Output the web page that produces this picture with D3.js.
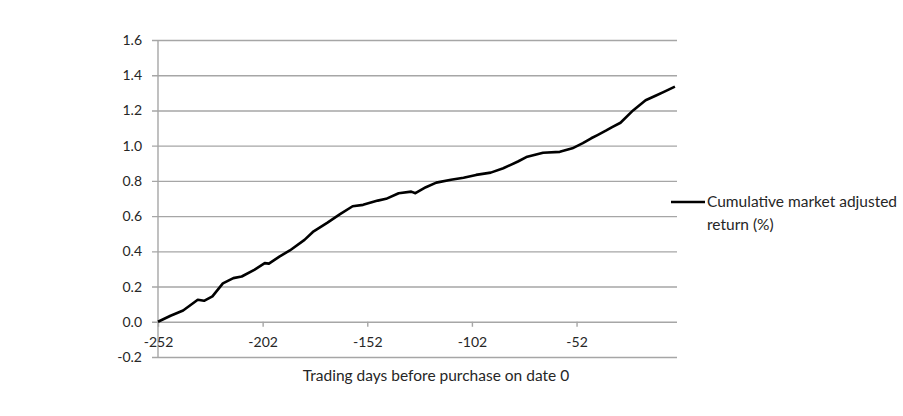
<!DOCTYPE html>
<html>
<head>
<meta charset="utf-8">
<script src="https://cdn.jsdelivr.net/npm/d3@7"></script>
<style>
  body { margin: 0; background: #fff; }
  text { font-family: Lato, "Open Sans", sans-serif; fill: #262626; }
</style>
</head>
<body>
<div id="chart"></div>
<script>
// values
const days = [-252, -246, -240, -233, -230, -226, -221, -216, -212, -206, -201, -199, -194, -189,
    -182, -178, -171, -165, -159, -154, -147, -143, -137, -131, -129, -124, -119, -112, -106,
    -100, -93, -87, -80, -76, -68, -60, -54, -49, -45, -42, -38, -35, -31, -25, -19, -14, -10, -5];
const cumReturn = [0, 0.034, 0.064, 0.125, 0.119, 0.144, 0.218, 0.248, 0.257, 0.295, 0.333, 0.330, 0.37, 0.405,
    0.465, 0.51, 0.563, 0.611, 0.656, 0.664, 0.688, 0.698, 0.73, 0.739, 0.73, 0.764, 0.79, 0.806, 0.818,
    0.834, 0.847, 0.872, 0.91, 0.935, 0.96, 0.965, 0.985, 1.014, 1.042, 1.06, 1.085, 1.105, 1.13, 1.2, 1.258, 1.285, 1.307, 1.335];
const xTicks = [-252, -202, -152, -102, -52];
const yTicks = [-0.2, 0, 0.2, 0.4, 0.6, 0.8, 1.0, 1.2, 1.4, 1.6];
const seriesName = ['Cumulative market adjusted', 'return (%)'];
const xTitle = 'Trading days before purchase on date 0';

const width = 903;
const height = 416;
const margin = {top: 40, left: 158, right: 226, bottom: 59};

const svg = d3.select('#chart')
    .append('svg')
        .attr('width', width)
        .attr('height', height);

const x = d3.scaleLinear()
    .domain([-252, -4])
    .range([margin.left, width - margin.right]);

const y = d3.scaleLinear()
    .domain([-0.2, 1.6])
    .range([height - margin.bottom, margin.top]);

// plain hyphen for the minus sign, like the original
const fmtY = d => d.toFixed(1).replace('\u2212', '-');
const fmtX = d => String(d);

// gridlines with little ticks on the left
const yAxis = svg.append('g')
    .attr('transform', `translate(${margin.left},0)`)
    .call(d3.axisLeft(y)
        .tickValues(yTicks)
        .tickFormat(fmtY)
        .tickSize(-(x.range()[1] - margin.left))
        .tickPadding(16));
yAxis.select('.domain').remove();
yAxis.selectAll('.tick line')
    .attr('x1', -6)
    .attr('stroke', '#a6a6a6')
    .attr('stroke-width', 1.4);
yAxis.selectAll('.tick text')
    .style('font-size', '14px');

// vertical axis line
svg.append('line')
    .attr('x1', margin.left)
    .attr('x2', margin.left)
    .attr('y1', y(1.6))
    .attr('y2', y(-0.2))
    .attr('stroke', '#a6a6a6')
    .attr('stroke-width', 1.4);

// category axis crosses at zero
const xAxis = svg.append('g')
    .attr('transform', `translate(0,${y(0)})`)
    .call(d3.axisBottom(x)
        .tickValues(xTicks)
        .tickFormat(fmtX)
        .tickSize(5)
        .tickPadding(10));
xAxis.select('.domain').remove();
xAxis.selectAll('.tick line')
    .attr('stroke', '#a6a6a6')
    .attr('stroke-width', 1.4);
xAxis.selectAll('.tick text')
    .style('font-size', '14px');

svg.append('text')
    .attr('x', 436)
    .attr('y', 381)
    .attr('text-anchor', 'middle')
    .style('font-size', '15.5px')
    .text(xTitle);

const line = d3.line()
    .x((d, i) => x(days[i]))
    .y(d => y(d));

svg.append('path')
    .datum(cumReturn)
    .attr('d', line)
    .attr('fill', 'none')
    .attr('stroke', '#000')
    .attr('stroke-width', 2.6)
    .attr('stroke-linejoin', 'round');

// legend
const legend = svg.append('g');
legend.append('line')
    .attr('x1', 671)
    .attr('x2', 705)
    .attr('y1', 202)
    .attr('y2', 202)
    .attr('stroke', '#000')
    .attr('stroke-width', 2.6);
legend.selectAll('text.lg')
    .data(seriesName)
    .join('text')
        .attr('class', 'lg')
        .attr('x', 707)
        .attr('y', (d, i) => 207 + i * 23)
        .style('font-size', '15.5px')
        .text(d => d);
</script>
</body>
</html>
